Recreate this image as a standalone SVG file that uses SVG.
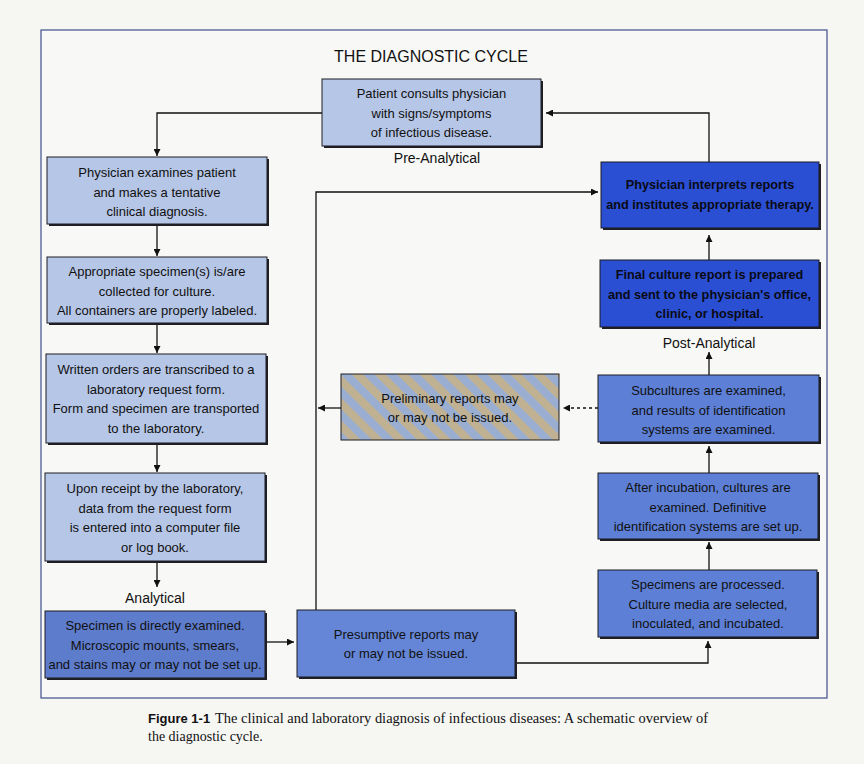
<svg xmlns="http://www.w3.org/2000/svg" width="864" height="764" viewBox="0 0 864 764">
<style>
  .bg{fill:#f6f6f3}
  .frame{fill:#f8f8f6;stroke:#3e4f8e;stroke-width:1.2}
  .shadow{fill:#1e1e24}
  .box{stroke:#1c1c22;stroke-width:1}
  .light{fill:#b6c6e6}
  .mid{fill:#5d7fd6}
  .midl{fill:#5e7ccc}
  .pres{fill:#6586d6}
  .dark{fill:#2a4fd2}
  .stripe{fill:url(#stripes)}
  .t{font-family:"Liberation Sans",Arial,sans-serif;font-size:13px;fill:#111;text-anchor:middle}
  .tb{font-family:"Liberation Sans",Arial,sans-serif;font-size:12.7px;font-weight:bold;fill:#0a0a14;text-anchor:middle}
  .lbl{font-family:"Liberation Sans",Arial,sans-serif;font-size:14px;fill:#111;text-anchor:middle}
  .title{font-family:"Liberation Sans",Arial,sans-serif;font-size:16px;fill:#111;text-anchor:middle}
  .conn{fill:none;stroke:#111;stroke-width:1.3}
  .dash{fill:none;stroke:#111;stroke-width:1.5;stroke-dasharray:3,3}
  .cap{font-family:"Liberation Serif","Times New Roman",serif;font-size:14px;fill:#111}
  .capb{font-family:"Liberation Sans",Arial,sans-serif;font-size:13px;font-weight:bold;fill:#111}
</style>
<defs>
  <pattern id="stripes" patternUnits="userSpaceOnUse" width="16" height="16" patternTransform="rotate(-45)">
    <rect x="0" y="0" width="8" height="16" fill="#c0b192"/>
    <rect x="8" y="0" width="8" height="16" fill="#9aaed2"/>
  </pattern>
  <marker id="arr" viewBox="0 0 10 10" refX="10" refY="5" markerWidth="7" markerHeight="7" markerUnits="userSpaceOnUse" orient="auto">
    <path d="M0,0 L10,5 L0,10 z" fill="#111"/>
  </marker>
</defs>

<rect class="bg" x="0" y="0" width="864" height="764"/>
<rect class="frame" x="41" y="30" width="786" height="668"/>

<text class="title" x="431" y="62">THE DIAGNOSTIC CYCLE</text>

<g id="connectors">
  <polyline class="conn" points="322,113 157,113 157,156" marker-end="url(#arr)"/>
  <line class="conn" x1="157" y1="224" x2="157" y2="256" marker-end="url(#arr)"/>
  <line class="conn" x1="157" y1="323" x2="157" y2="353" marker-end="url(#arr)"/>
  <line class="conn" x1="157" y1="443" x2="157" y2="472" marker-end="url(#arr)"/>
  <line class="conn" x1="157" y1="561" x2="157" y2="587" marker-end="url(#arr)"/>
  <line class="conn" x1="267" y1="642" x2="294" y2="642" marker-end="url(#arr)"/>
  <polyline class="conn" points="316,610 316,192 598,192" marker-end="url(#arr)"/>
  <polyline class="conn" points="515,663 708,663 708,641" marker-end="url(#arr)"/>
  <line class="conn" x1="709" y1="570" x2="709" y2="542" marker-end="url(#arr)"/>
  <line class="conn" x1="709" y1="473" x2="709" y2="446" marker-end="url(#arr)"/>
  <line class="conn" x1="709" y1="375" x2="709" y2="352" marker-end="url(#arr)"/>
  <line class="conn" x1="709" y1="260" x2="709" y2="235" marker-end="url(#arr)"/>
  <polyline class="conn" points="709,162 709,113 546,113" marker-end="url(#arr)"/>
  <line class="dash" x1="598" y1="408" x2="563" y2="408" marker-end="url(#arr)"/>
  <line class="conn" x1="341" y1="408" x2="318" y2="408" marker-end="url(#arr)"/>
</g>

<g id="n-patient">
  <rect class="shadow" x="324" y="81" width="219" height="67"/>
  <rect class="box light" x="322" y="79" width="219" height="67"/>
  <text class="t" x="431.5" y="98">Patient consults physician</text>
  <text class="t" x="431.5" y="117.5">with signs/symptoms</text>
  <text class="t" x="431.5" y="137">of infectious disease.</text>
</g>
<text class="lbl" x="437" y="163">Pre-Analytical</text>

<g id="n-examine">
  <rect class="shadow" x="49" y="159" width="220" height="67"/>
  <rect class="box light" x="47" y="157" width="220" height="67"/>
  <text class="t" x="157" y="177">Physician examines patient</text>
  <text class="t" x="157" y="196.5">and makes a tentative</text>
  <text class="t" x="157" y="216">clinical diagnosis.</text>
</g>

<g id="n-specimen">
  <rect class="shadow" x="49" y="259" width="220" height="66"/>
  <rect class="box light" x="47" y="257" width="220" height="66"/>
  <text class="t" x="157" y="276">Appropriate specimen(s) is/are</text>
  <text class="t" x="157" y="295.5">collected for culture.</text>
  <text class="t" x="157" y="315">All containers are properly labeled.</text>
</g>

<g id="n-orders">
  <rect class="shadow" x="48" y="356" width="220" height="89"/>
  <rect class="box light" x="46" y="354" width="220" height="89"/>
  <text class="t" x="156" y="374">Written orders are transcribed to a</text>
  <text class="t" x="156" y="393.5">laboratory request form.</text>
  <text class="t" x="156" y="413">Form and specimen are transported</text>
  <text class="t" x="156" y="432.5">to the laboratory.</text>
</g>

<g id="n-receipt">
  <rect class="shadow" x="47" y="475" width="220" height="88"/>
  <rect class="box light" x="45" y="473" width="220" height="88"/>
  <text class="t" x="155" y="493">Upon receipt by the laboratory,</text>
  <text class="t" x="155" y="512.5">data from the request form</text>
  <text class="t" x="155" y="532">is entered into a computer file</text>
  <text class="t" x="155" y="551.5">or log book.</text>
</g>
<text class="lbl" x="155" y="603">Analytical</text>

<g id="n-direct">
  <rect class="shadow" x="47" y="613" width="220" height="67"/>
  <rect class="box midl" x="45" y="611" width="220" height="67"/>
  <text class="t" x="155" y="630">Specimen is directly examined.</text>
  <text class="t" x="155" y="649.5">Microscopic mounts, smears,</text>
  <text class="t" x="155" y="669">and stains may or may not be set up.</text>
</g>

<g id="n-presumptive">
  <rect class="shadow" x="299" y="612" width="218" height="67"/>
  <rect class="box pres" x="297" y="610" width="218" height="67"/>
  <text class="t" x="406" y="638.5">Presumptive reports may</text>
  <text class="t" x="406" y="658">or may not be issued.</text>
</g>

<g id="n-preliminary">
  <rect class="box stripe" x="341" y="374" width="218" height="66"/>
  <text class="t" x="450" y="402.5">Preliminary reports may</text>
  <text class="t" x="450" y="422">or may not be issued.</text>
</g>

<g id="n-processed">
  <rect class="shadow" x="600" y="572" width="219" height="67"/>
  <rect class="box mid" x="598" y="570" width="219" height="67"/>
  <text class="t" x="708" y="589">Specimens are processed.</text>
  <text class="t" x="708" y="608.5">Culture media are selected,</text>
  <text class="t" x="708" y="628">inoculated, and incubated.</text>
</g>

<g id="n-incubation">
  <rect class="shadow" x="600" y="475" width="220" height="66"/>
  <rect class="box mid" x="598" y="473" width="220" height="66"/>
  <text class="t" x="708" y="492">After incubation, cultures are</text>
  <text class="t" x="708" y="511.5">examined. Definitive</text>
  <text class="t" x="708" y="531">identification systems are set up.</text>
</g>

<g id="n-subcultures">
  <rect class="shadow" x="600" y="377" width="221" height="67"/>
  <rect class="box mid" x="598" y="375" width="221" height="67"/>
  <text class="t" x="708.5" y="395">Subcultures are examined,</text>
  <text class="t" x="708.5" y="414.5">and results of identification</text>
  <text class="t" x="708.5" y="434">systems are examined.</text>
</g>
<text class="lbl" x="709" y="348">Post-Analytical</text>

<g id="n-final">
  <rect class="shadow" x="602" y="262" width="219" height="67"/>
  <rect class="box dark" x="600" y="260" width="219" height="67"/>
  <text class="tb" x="709.5" y="279">Final culture report is prepared</text>
  <text class="tb" x="709.5" y="298.5">and sent to the physician's office,</text>
  <text class="tb" x="709.5" y="318">clinic, or hospital.</text>
</g>

<g id="n-interprets">
  <rect class="shadow" x="603" y="164" width="218" height="66"/>
  <rect class="box dark" x="601" y="162" width="218" height="66"/>
  <text class="tb" x="710" y="189">Physician interprets reports</text>
  <text class="tb" x="710" y="208.5">and institutes appropriate therapy.</text>
</g>

<g id="caption">
  <text x="148" y="723"><tspan class="capb">Figure 1-1</tspan><tspan class="cap" x="215" textLength="493" lengthAdjust="spacingAndGlyphs">The clinical and laboratory diagnosis of infectious diseases: A schematic overview of</tspan></text>
  <text class="cap" x="148" y="741">the diagnostic cycle.</text>
</g>
</svg>
